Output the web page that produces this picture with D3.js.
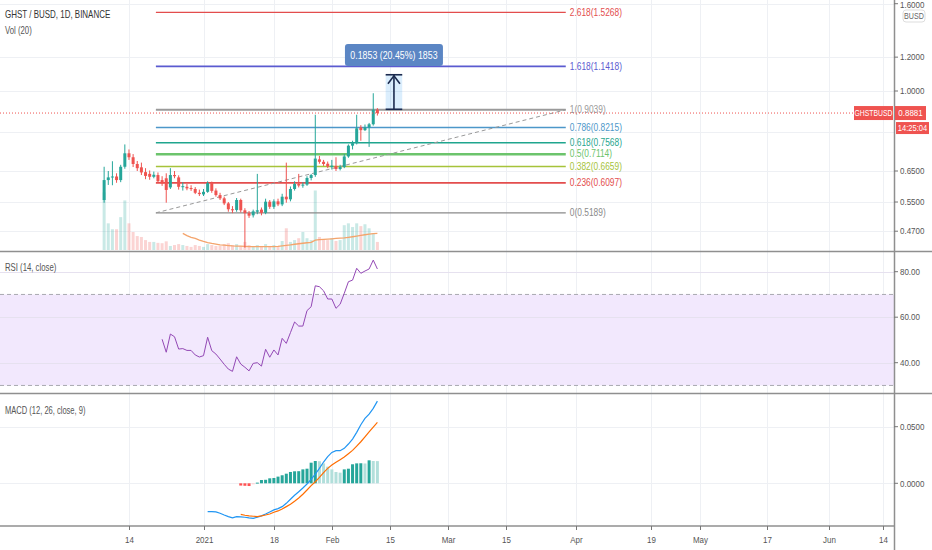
<!DOCTYPE html>
<html>
<head>
<meta charset="utf-8">
<script src="https://cdn.jsdelivr.net/npm/d3@7"></script>
<style>
  body { margin: 0; background: #fff; }
  svg { display: block; font-family: "Liberation Sans Narrow", "Liberation Sans", Arial, sans-serif; }
</style>
</head>
<body>
<svg id="chart" width="932" height="550"></svg>
<script>
// ---- data ----
var firstDay = "2020-12-08", lastDay = "2021-02-13";   // daily candles, Dec 8 .. Feb 12

var opens  = [0.556,0.619,0.628,0.631,0.619,0.665,0.715,0.700,0.675,0.663,0.646,0.640,0.630,0.636,0.619,0.625,0.595,0.636,0.628,0.597,
              0.597,0.593,0.590,0.578,0.573,0.581,0.609,0.585,0.571,0.561,0.546,0.529,0.527,0.556,0.526,0.518,0.512,0.522,0.528,0.519,
              0.551,0.536,0.552,0.543,0.566,0.558,0.590,0.606,0.601,0.604,0.626,0.636,0.692,0.683,0.676,0.664,0.668,0.657,0.664,0.703,
              0.745,0.755,0.822,0.810,0.822,0.836,0.904];
var highs  = [0.665,0.650,0.685,0.642,0.672,0.750,0.730,0.712,0.686,0.680,0.660,0.652,0.648,0.645,0.632,0.642,0.660,0.650,0.635,0.612,
              0.606,0.602,0.596,0.588,0.590,0.615,0.614,0.592,0.578,0.566,0.550,0.538,0.562,0.560,0.532,0.524,0.528,0.640,0.534,0.560,
              0.556,0.558,0.560,0.575,0.680,0.598,0.615,0.640,0.612,0.632,0.640,0.880,0.705,0.690,0.684,0.690,0.700,0.672,0.712,0.750,
              0.765,0.880,0.832,0.835,0.842,0.988,0.912];
var lows   = [0.548,0.603,0.602,0.610,0.612,0.658,0.690,0.664,0.650,0.636,0.622,0.620,0.625,0.610,0.600,0.548,0.590,0.625,0.588,0.585,
              0.586,0.584,0.574,0.568,0.568,0.578,0.578,0.566,0.556,0.541,0.522,0.518,0.522,0.520,0.430,0.505,0.506,0.515,0.512,0.515,
              0.530,0.530,0.538,0.538,0.548,0.552,0.585,0.595,0.594,0.600,0.618,0.630,0.676,0.668,0.660,0.655,0.650,0.652,0.660,0.698,
              0.730,0.750,0.765,0.806,0.740,0.830,0.876];
var closes = [0.619,0.628,0.631,0.619,0.665,0.715,0.700,0.675,0.660,0.645,0.633,0.630,0.637,0.615,0.608,0.587,0.636,0.632,0.597,0.599,
              0.592,0.590,0.578,0.574,0.581,0.609,0.584,0.571,0.561,0.546,0.529,0.526,0.556,0.526,0.518,0.511,0.523,0.526,0.519,0.551,
              0.536,0.552,0.543,0.566,0.558,0.590,0.606,0.601,0.604,0.626,0.636,0.695,0.683,0.675,0.666,0.669,0.657,0.664,0.703,0.745,
              0.755,0.818,0.810,0.822,0.836,0.904,0.888];
var volumes = [930,430,335,335,530,800,430,290,225,210,160,130,130,115,110,140,65,80,95,80,
               65,50,80,65,50,95,80,65,65,95,110,80,95,65,130,80,50,80,65,95,
               65,80,65,145,350,130,160,190,290,190,160,960,210,175,160,190,145,160,400,430,
               370,430,385,415,350,270,130];
// Vol (20) average, from the 20th candle on
var volumeMA = [267,232,205,187,160,139,120,106,96,83,77,72,67,64,61,58,54,53,53,53,
                54,54,56,59,67,75,83,93,101,109,117,122,160,166,171,176,181,186,192,197,
                205,214,224,235,246,256,264,267];
// RSI (14) from the 15th candle on
var rsiValues = [50.3,44.6,52.6,51.4,46.0,46.2,45.4,45.4,43.4,42.5,43.1,51.2,45.3,43.8,41.6,39.3,37.2,36.2,42.6,39.4,
                 38.0,36.4,39.7,40.0,38.5,45.9,42.4,45.6,43.4,50.7,48.5,53.2,57.9,56.1,56.1,62.9,64.6,73.8,73.4,71.6,
                 68.0,68.0,63.9,65.7,70.5,75.6,76.3,81.5,79.3,80.3,81.2,85.1,81.2];
// MACD (12, 26, 9): line from the 26th candle, signal and histogram from the 34th
var macdValues = [-0.0250,-0.0250,-0.0253,-0.0265,-0.0280,-0.0294,-0.0306,-0.0294,-0.0297,-0.0300,-0.0306,-0.0309,-0.0300,-0.0288,
                  -0.0271,-0.0253,-0.0235,-0.0224,-0.0206,-0.0177,-0.0141,-0.0106,-0.0074,-0.0041,-0.0006,0.0035,0.0082,0.0132,
                  0.0188,0.0235,0.0273,0.0288,0.0288,0.0309,0.0347,0.0391,0.0450,0.0517,0.0573,0.0611,0.0662,0.0726];
var signalValues = [-0.0274,-0.0282,-0.0288,-0.0291,-0.0294,-0.0288,-0.0280,-0.0271,-0.0256,-0.0244,-0.0227,-0.0206,-0.0185,-0.0159,
                    -0.0130,-0.0097,-0.0059,-0.0021,0.0014,0.0053,0.0094,0.0132,0.0161,0.0185,0.0208,0.0232,0.0261,0.0291,
                    0.0329,0.0367,0.0411,0.0455,0.0497,0.0538];
var histValues = [-0.0020,-0.0022,-0.0024,-0.0008,0.0006,0.0029,0.0031,0.0044,0.0047,0.0059,0.0071,0.0085,0.0100,0.0106,
                  0.0107,0.0123,0.0129,0.0182,0.0197,0.0195,0.0176,0.0147,0.0123,0.0100,0.0094,0.0123,0.0129,0.0168,
                  0.0176,0.0177,0.0175,0.0203,0.0197,0.0196];

var fibRatios = ["0", "0.236", "0.382", "0.5", "0.618", "0.786", "1", "1.618", "2.618"];
var fibPrices = [0.5189, 0.6097, 0.6659, 0.7114, 0.7568, 0.8215, 0.9039, 1.1418, 1.5268];
var fibDates = ["2020-12-20T12:00Z", "2021-03-29T12:00Z"];

var measurePrices = [0.9061, 1.0914];
var measureDates = ["2021-02-14", "2021-02-18"];
var measureText = "0.1853 (20.45%) 1853";

var lastPrice = 0.8881, symbolName = "GHSTBUSD", countdown = "14:25:04";

var priceTicks = [1.6, 1.2, 1.0, 0.8, 0.65, 0.55, 0.47];
var hiddenPriceTicks = [0.8];
var rsiTicks = [80, 60, 40];
var macdTicks = [0.05, 0];
var tickDates = ["2020-12-14","2021-01-01","2021-01-18","2021-02-01","2021-02-15","2021-03-01","2021-03-15",
                 "2021-04-01","2021-04-19","2021-05-01","2021-05-17","2021-06-01","2021-06-14"];
var tickLabels = ["14","2021","18","Feb","15","Mar","15","Apr","19","May","17","Jun","14"];

// ---- layout ----
var W = 932, H = 550, axisX = 894;
var panes = { main: [0, 251], rsi: [252, 393], macd: [394, 526] };
var green = "#26a69a", red = "#ef5350", SX = 0.84;

var days = d3.utcDay.range(new Date(firstDay), new Date(lastDay));

var x = d3.scaleUtc().domain([new Date("2021-01-01"), new Date("2021-06-14")]).range([203.5, 882.5]);
var yP = d3.scaleLog().domain([1, 0.65]).range([91, 171]);
var yV = d3.scaleLinear().domain([0, 1000]).range([250, 188]);
var yR = d3.scaleLinear().domain([40, 80]).range([362.7, 271.7]);
var yM = d3.scaleLinear().domain([0, 0.05]).range([483.3, 426.7]);

var svg = d3.select("#chart");

function txt(g, px, py, s, o) {
  o = o || {};
  return g.append("text")
    .attr("transform", "translate(" + px + "," + py + ") scale(" + (o.sx || SX) + ",1)")
    .attr("text-anchor", o.anchor || "start")
    .attr("dominant-baseline", "central")
    .attr("font-size", o.size || 9.5)
    .attr("font-weight", o.weight || null)
    .attr("fill", o.color || "#4a4a4a")
    .text(s);
}

// clip paths per pane
var defs = svg.append("defs");
Object.keys(panes).forEach(function (k) {
  defs.append("clipPath").attr("id", "clip-" + k)
    .append("rect").attr("x", 0).attr("y", panes[k][0]).attr("width", axisX).attr("height", panes[k][1] - panes[k][0]);
});

// grid
var grid = svg.append("g").attr("stroke", "#eef0f4").attr("stroke-width", 1);
grid.selectAll("line.v").data(tickDates).enter().append("line")
  .attr("x1", function (d) { return Math.round(x(new Date(d))) + 0.5; })
  .attr("x2", function (d) { return Math.round(x(new Date(d))) + 0.5; })
  .attr("y1", 0).attr("y2", panes.macd[1]);
grid.selectAll("line.p").data(priceTicks).enter().append("line")
  .attr("x1", 0).attr("x2", axisX)
  .attr("y1", function (d) { return Math.round(yP(d)) + 0.5; })
  .attr("y2", function (d) { return Math.round(yP(d)) + 0.5; });

// RSI band
var rsiG = svg.append("g").attr("clip-path", "url(#clip-rsi)");
rsiG.append("rect").attr("x", 0).attr("width", axisX)
  .attr("y", yR(70)).attr("height", yR(30) - yR(70)).attr("fill", "#f2e8fd");
rsiG.selectAll("line.g").data(rsiTicks).enter().append("line")
  .attr("x1", 0).attr("x2", axisX)
  .attr("y1", function (d) { return Math.round(yR(d)) + 0.5; })
  .attr("y2", function (d) { return Math.round(yR(d)) + 0.5; })
  .attr("stroke", "#e6e1ef");
rsiG.selectAll("line.b").data([70, 30]).enter().append("line")
  .attr("x1", 0).attr("x2", axisX)
  .attr("y1", function (d) { return yR(d); }).attr("y2", function (d) { return yR(d); })
  .attr("stroke", "#a8a8b0").attr("stroke-dasharray", "4,3");
rsiG.append("path")
  .datum(rsiValues)
  .attr("fill", "none").attr("stroke", "#9348b5").attr("stroke-width", 1)
  .attr("d", d3.line()
    .x(function (d, i) { return x(days[i + 14]); })
    .y(function (d) { return yR(d); }));

// MACD
var macdG = svg.append("g").attr("clip-path", "url(#clip-macd)");
macdG.selectAll("line.g").data(macdTicks).enter().append("line")
  .attr("x1", 0).attr("x2", axisX)
  .attr("y1", function (d) { return Math.round(yM(d)) + 0.5; })
  .attr("y2", function (d) { return Math.round(yM(d)) + 0.5; })
  .attr("stroke", "#eef0f4");
macdG.selectAll("rect.h").data(histValues).enter().append("rect")
  .attr("x", function (d, i) { return x(days[i + 33]) - 1.5; })
  .attr("width", 3)
  .attr("y", function (d) { return Math.min(yM(d), yM(0)); })
  .attr("height", function (d) { return Math.max(1, Math.abs(yM(d) - yM(0))); })
  .attr("fill", function (d, i) {
    var prev = i > 0 ? histValues[i - 1] : d + 1;
    if (d >= 0) return d >= prev ? "#26a69a" : "#b2dfdb";
    return d < prev ? "#ff5252" : "#ffcdd2";
  });
macdG.append("path").datum(macdValues)
  .attr("fill", "none").attr("stroke", "#2196f3").attr("stroke-width", 1.2)
  .attr("d", d3.line().x(function (d, i) { return x(days[i + 25]); }).y(function (d) { return yM(d); }));
macdG.append("path").datum(signalValues)
  .attr("fill", "none").attr("stroke", "#ff6d00").attr("stroke-width", 1.2)
  .attr("d", d3.line().x(function (d, i) { return x(days[i + 33]); }).y(function (d) { return yM(d); }));

// main pane
var mainG = svg.append("g").attr("clip-path", "url(#clip-main)");

// volume
mainG.selectAll("rect.vol").data(volumes).enter().append("rect")
  .attr("x", function (d, i) { return x(days[i]) - 1.5; })
  .attr("width", 3)
  .attr("y", function (d) { return yV(d); })
  .attr("height", function (d) { return yV(0) - yV(d); })
  .attr("fill", function (d, i) { return closes[i] >= opens[i] ? green : red; })
  .attr("opacity", 0.25);
mainG.append("path").datum(volumeMA)
  .attr("fill", "none").attr("stroke", "#f4a46c").attr("stroke-width", 1.3)
  .attr("d", d3.line().x(function (d, i) { return x(days[i + 19]); }).y(function (d) { return yV(d); }));

// fib retracement
var fibColors = ["#8a8a8a", "#e34d4d", "#a6c33a", "#6cc46c", "#1fa58e", "#4d97c9", "#9a9a9a", "#5b5bd0", "#e34d4d"];
var fibWidths = [1.2, 1.6, 1.4, 2.6, 1.3, 1.3, 1.8, 1.6, 1.4];
var fx0 = x(new Date(fibDates[0])), fx1 = x(new Date(fibDates[1]));
mainG.selectAll("line.fib").data(fibPrices).enter().append("line")
  .attr("x1", fx0).attr("x2", fx1)
  .attr("y1", function (d) { return yP(d); }).attr("y2", function (d) { return yP(d); })
  .attr("stroke", function (d, i) { return fibColors[i]; })
  .attr("stroke-width", function (d, i) { return fibWidths[i]; });
mainG.append("line")
  .attr("x1", fx0).attr("y1", yP(fibPrices[0]))
  .attr("x2", fx1).attr("y2", yP(fibPrices[6]))
  .attr("stroke", "#999").attr("stroke-width", 1).attr("stroke-dasharray", "4,3");
fibPrices.forEach(function (p, i) {
  txt(mainG, fx1 + 4, yP(p), fibRatios[i] + "(" + p.toFixed(4) + ")", { color: fibColors[i], size: 10 });
});

// candles
var candle = mainG.selectAll("g.c").data(days).enter().append("g");
candle.append("line")
  .attr("x1", function (d) { return x(d); }).attr("x2", function (d) { return x(d); })
  .attr("y1", function (d, i) { return yP(highs[i]); })
  .attr("y2", function (d, i) { return yP(lows[i]); })
  .attr("stroke", function (d, i) { return closes[i] >= opens[i] ? green : red; })
  .attr("stroke-width", 1);
candle.append("rect")
  .attr("x", function (d) { return x(d) - 1.5; })
  .attr("width", 3)
  .attr("y", function (d, i) { return yP(Math.max(opens[i], closes[i])); })
  .attr("height", function (d, i) { return Math.max(1, Math.abs(yP(opens[i]) - yP(closes[i]))); })
  .attr("fill", function (d, i) { return closes[i] >= opens[i] ? green : red; });

// measure tool
var mx0 = x(new Date(measureDates[0])), mx1 = x(new Date(measureDates[1])), mxc = (mx0 + mx1) / 2;
var my0 = yP(measurePrices[0]), my1 = yP(measurePrices[1]);
mainG.append("rect").attr("x", mx0).attr("y", my1).attr("width", mx1 - mx0).attr("height", my0 - my1)
  .attr("fill", "rgba(33,150,243,0.16)");
var arrow = mainG.append("g").attr("stroke", "#1b2a4e").attr("stroke-width", 1.6).attr("fill", "none");
arrow.append("line").attr("x1", mx0).attr("x2", mx1).attr("y1", my1).attr("y2", my1);
arrow.append("line").attr("x1", mx0).attr("x2", mx1).attr("y1", my0).attr("y2", my0);
arrow.append("line").attr("x1", mxc).attr("x2", mxc).attr("y1", my0).attr("y2", my1);
arrow.append("path").attr("d", "M" + (mxc - 6) + "," + (my1 + 9) + "L" + mxc + "," + (my1 + 1) + "L" + (mxc + 6) + "," + (my1 + 9));
mainG.append("rect").attr("x", mxc - 49).attr("y", 44).attr("width", 98).attr("height", 22).attr("rx", 3)
  .attr("fill", "#5b86c4");
txt(mainG, mxc, 55, measureText, { anchor: "middle", color: "#fff", size: 10.5 });

// last price line
mainG.append("line").attr("x1", 0).attr("x2", axisX).attr("y1", yP(lastPrice)).attr("y2", yP(lastPrice))
  .attr("stroke", red).attr("stroke-width", 1).attr("stroke-dasharray", "1,2");

// legends
txt(svg, 5, 15, "GHST / BUSD, 1D, BINANCE", { color: "#333", size: 10.5, sx: 0.76 });
txt(svg, 5, 31, "Vol (20)", { color: "#555", size: 10.5, sx: 0.74 });
txt(svg, 5, 268, "RSI (14, close)", { color: "#555", size: 10.5, sx: 0.74 });
txt(svg, 5, 411, "MACD (12, 26, close, 9)", { color: "#555", size: 10.5, sx: 0.72 });

// pane separators and axes
var sep = svg.append("g").attr("stroke", "#8f8f8f").attr("stroke-width", 1.5);
sep.append("line").attr("x1", 0).attr("x2", W).attr("y1", 251.5).attr("y2", 251.5);
sep.append("line").attr("x1", 0).attr("x2", W).attr("y1", 393.5).attr("y2", 393.5);
sep.append("line").attr("x1", 0).attr("x2", axisX).attr("y1", 526).attr("y2", 526);
sep.append("line").attr("x1", axisX + 0.5).attr("x2", axisX + 0.5).attr("y1", 0).attr("y2", H);

var axisG = svg.append("g");
function rightTicks(values, scale, fmt, skip) {
  values.forEach(function (v) {
    if (skip && skip.indexOf(v) >= 0) return;
    var yy = Math.max(scale(v), 5);
    axisG.append("line").attr("x1", axisX).attr("x2", axisX + 4).attr("y1", scale(v)).attr("y2", scale(v)).attr("stroke", "#777");
    txt(axisG, axisX + 6, yy, fmt(v), { color: "#555" });
  });
}
rightTicks(priceTicks, yP, function (v) { return v.toFixed(4); }, hiddenPriceTicks);
rightTicks(rsiTicks, yR, function (v) { return v.toFixed(2); });
rightTicks(macdTicks, yM, function (v) { return v.toFixed(4); });

tickDates.forEach(function (d, i) {
  var xx = Math.round(x(new Date(d))) + 0.5;
  axisG.append("line").attr("x1", xx).attr("x2", xx).attr("y1", 526).attr("y2", 530).attr("stroke", "#777");
  txt(axisG, xx, 540, tickLabels[i], { anchor: "middle", color: "#555" });
});

// currency button
axisG.append("rect").attr("x", 903).attr("y", 10).attr("width", 22).attr("height", 12).attr("rx", 3)
  .attr("fill", "#fff").attr("stroke", "#ddd");
txt(axisG, 914, 16, "BUSD", { anchor: "middle", color: "#666", size: 8.5 });

// last price labels
var ly = yP(lastPrice);
axisG.append("rect").attr("x", 854).attr("y", ly - 7).attr("width", 39).attr("height", 14).attr("fill", red);
txt(axisG, 873.5, ly, symbolName, { anchor: "middle", color: "#fff", size: 9.5, sx: 0.72 });
axisG.append("rect").attr("x", 895).attr("y", ly - 7).attr("width", 31).attr("height", 14).attr("fill", red);
txt(axisG, 910.5, ly, lastPrice.toFixed(4), { anchor: "middle", color: "#fff", size: 9.5 });
axisG.append("rect").attr("x", 896).attr("y", ly + 9).attr("width", 33).attr("height", 12).attr("fill", red);
txt(axisG, 912.5, ly + 15, countdown, { anchor: "middle", color: "#fff", size: 9 });
</script>
</body>
</html>
